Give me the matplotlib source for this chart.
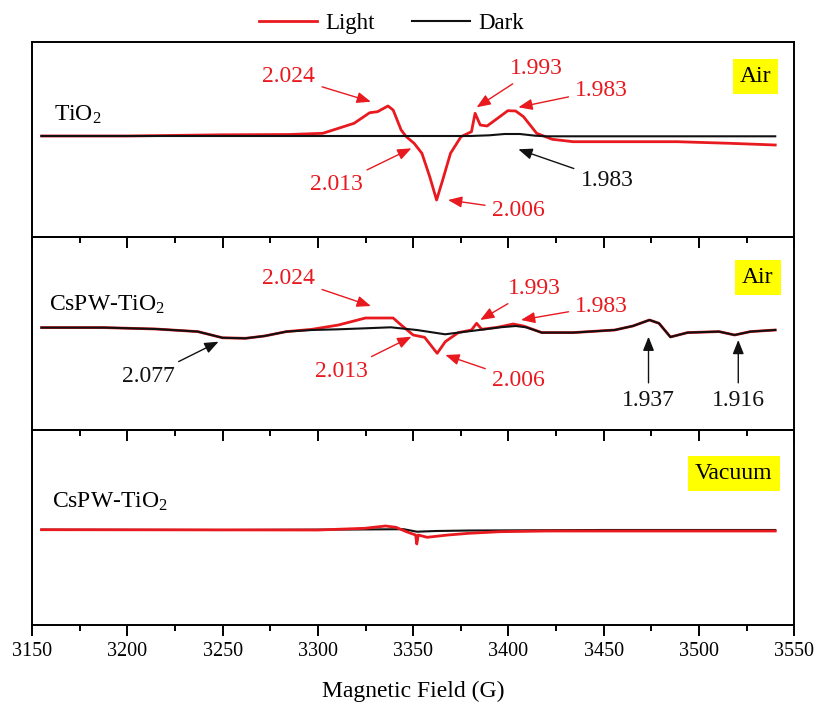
import matplotlib
matplotlib.use('Agg')
import matplotlib.pyplot as plt
from matplotlib.ticker import MultipleLocator

plt.rcParams['font.family'] = ['Liberation Serif', 'DejaVu Serif']
plt.rcParams['mathtext.default'] = 'regular'

# ---------------- data ----------------
# Panel 1: TiO2 in air
tio2_light_B = [3155, 3200, 3250, 3285, 3302.6, 3319, 3327.2, 3331.3, 3336.8, 3339.5, 3343.7,
                3346.4, 3350.5, 3354.6, 3358.7, 3362.3, 3365.5, 3369.6, 3375.1, 3380.6, 3382.5,
                3385.2, 3388.8, 3394.3, 3399.7, 3403.8, 3407.9, 3414.8, 3423, 3433.9, 3461.3,
                3488.6, 3516, 3540]
tio2_light_I = [0, 0, 1.2, 1.5, 2.7, 12.7, 23.3, 24.3, 30, 26, 6,
                -0.7, -7.3, -17.3, -40.7, -64, -44, -17.3, -0.7, 4.3, 22.7,
                11, 10, 17.7, 25.3, 25, 19.3, 2.7, -3.3, -5.7, -5.7,
                -5.7, -7.3, -9]
tio2_dark_B = [3155, 3250, 3380, 3390, 3398, 3406, 3414, 3420, 3480, 3540]
tio2_dark_I = [0, 0, 0, 0.7, 2, 2, 0.3, -0.3, -0.3, -0.3]

# Panel 2: CsPW-TiO2 in air
cspw_light_B = [3155, 3187.7, 3215, 3237, 3250, 3262, 3272, 3283.5, 3297, 3310.8, 3325,
                3339.5, 3343.7, 3350, 3356, 3362.6, 3366.9, 3373.7, 3380.6, 3383.3, 3386,
                3394.3, 3402.5, 3407.9, 3417.5, 3434, 3455.8, 3465.3, 3474, 3479, 3485,
                3494, 3510.5, 3518.7, 3527, 3540]
cspw_light_I = [0.7, 0.7, -0.7, -3.3, -9.5, -10, -7.7, -3.3, -1, 3.3, 10.3,
                10.3, 3.3, -6.7, -9, -25, -13.3, -4.3, -1.7, 5, -1,
                1, 4.3, 2.3, -4.3, -4.3, -1.7, 2.3, 8.3, 5, -8.7,
                -4.3, -3.3, -6.7, -3.3, -1.7]
cspw_dark_B = [3155, 3187.7, 3215, 3237, 3250, 3262, 3272, 3283.5, 3297, 3310.8, 3325,
               3338.2, 3351.9, 3366.8, 3373.7, 3384.7, 3395.6, 3403.8, 3409.3, 3417.5, 3434,
               3455.8, 3465.3, 3474, 3479, 3485, 3494, 3510.5, 3518.7, 3527, 3540]
cspw_dark_I = [0.7, 0.7, -0.7, -3.3, -9.5, -10, -7.7, -3.3, -1.7, -1, 0,
               1, -1.7, -6, -4.3, -1.7, 1, 2.3, 1, -4.3, -4.3,
               -1.7, 2.3, 8.3, 5, -8.7, -4.3, -3.3, -6.7, -3.3, -1.7]

# Panel 3: CsPW-TiO2 in vacuum
vac_light_B = [3155, 3300, 3324.5, 3335.5, 3341, 3346.4, 3351.3, 3351.9, 3352.7, 3357.3,
               3368.3, 3379.2, 3395.6, 3420, 3540]
vac_light_I = [0.3, 0, 1.7, 4, 2.7, -1.7, -5, -14, -5, -7.3,
               -5, -3.3, -1.7, -1, -1]
vac_dark_B = [3155, 3250, 3320, 3345, 3352, 3362, 3380, 3450, 3540]
vac_dark_I = [0.3, 0, 0.5, 0.8, -1.7, -1, -0.5, 0, 0]

series_labels = ['Light', 'Dark']
panel_labels = ['Air', 'Air', 'Vacuum']
sample_labels = ['TiO$_2$', 'CsPW-TiO$_2$', 'CsPW-TiO$_2$']
g_tio2_red = ['2.024', '1.993', '1.983', '2.013', '2.006']
g_tio2_black = ['1.983']
g_cspw_red = ['2.024', '1.993', '1.983', '2.013', '2.006']
g_cspw_black = ['2.077', '1.937', '1.916']

RED = '#e8191f'
BLACK = '#111111'

# ---------------- figure ----------------
fig = plt.figure(figsize=(8.17, 7.04), dpi=100)
left, right = 32 / 817, 794.3 / 817
tops_px = [41.7, 236.7, 430.0]
bots_px = [236.7, 430.0, 625.0]
ylims = [(-100.7, 94.3), (-101.7, 91.6), (-95, 100)]
axes = []
for i in range(3):
    b = 1 - bots_px[i] / 704
    h = (bots_px[i] - tops_px[i]) / 704
    ax = fig.add_axes([left, b, right - left, h])
    ax.patch.set_visible(False)
    ax.set_xlim(3150, 3550)
    ax.set_ylim(*ylims[i])
    ax.set_yticks([])
    for s in ax.spines.values():
        s.set_linewidth(1.4)
    ax.xaxis.set_major_locator(MultipleLocator(50))
    ax.xaxis.set_minor_locator(MultipleLocator(25))
    ax.tick_params(axis='x', which='both', direction='out', bottom=True, top=False,
                   width=1.4, labelbottom=(i == 2), labelsize=14.5, pad=4.5)
    ax.tick_params(axis='x', which='major', length=8)
    ax.tick_params(axis='x', which='minor', length=4.3)
    axes.append(ax)

ax1, ax2, ax3 = axes

lw_red, lw_blk = 2.0, 1.5
l1, = ax1.plot(tio2_light_B, tio2_light_I, color=RED, lw=lw_red, label=series_labels[0])
l2, = ax1.plot(tio2_dark_B, tio2_dark_I, color=BLACK, lw=lw_blk, label=series_labels[1])
ax2.plot(cspw_light_B, cspw_light_I, color=RED, lw=lw_red)
ax2.plot(cspw_dark_B, cspw_dark_I, color=BLACK, lw=lw_blk)
ax3.plot(vac_dark_B, vac_dark_I, color=BLACK, lw=lw_blk)
ax3.plot(vac_light_B, vac_light_I, color=RED, lw=lw_red)

ax3.set_xlabel('Magnetic Field (G)', fontsize=17, labelpad=14)

FS = 17
arrow_kw = dict(arrowstyle='-|>,head_length=0.7,head_width=0.28', lw=1.0,
                mutation_scale=12, shrinkA=3, shrinkB=0)


def ann(ax, txt, xy, xytext, color):
    ax.annotate(txt, xy=xy, xytext=xytext, ha='center', va='center', fontsize=FS,
                color=color, arrowprops=dict(color=color, **arrow_kw))


# panel 1 annotations
ann(ax1, g_tio2_red[0], (3327.8, 34.3), (3284.8, 59.3), RED)
ann(ax1, g_tio2_red[1], (3383.3, 28.7), (3414.8, 67.7), RED)
ann(ax1, g_tio2_red[2], (3405.2, 28.7), (3449, 46), RED)
ann(ax1, g_tio2_red[3], (3349.1, -12.3), (3309.5, -49), RED)
ann(ax1, g_tio2_red[4], (3368.3, -64), (3405.2, -74), RED)
ann(ax1, g_tio2_black[0], (3405.2, -13.3), (3451.7, -44), BLACK)

# panel 2 annotations
ann(ax2, g_cspw_red[0], (3327.8, 22.3), (3284.8, 50), RED)
ann(ax2, g_cspw_red[1], (3385.2, 8.3), (3413.4, 40), RED)
ann(ax2, g_cspw_red[2], (3406.6, 8.3), (3449, 22.3), RED)
ann(ax2, g_cspw_red[3], (3349.1, -8.4), (3312.2, -43.4), RED)
ann(ax2, g_cspw_red[4], (3366.9, -26.7), (3405.2, -51.7), RED)
ann(ax2, g_cspw_black[0], (3247.9, -13.4), (3211, -48.4), BLACK)
ann(ax2, g_cspw_black[1], (3473.5, -8.4), (3473.5, -72), BLACK)
ann(ax2, g_cspw_black[2], (3520.6, -11.7), (3520.6, -72), BLACK)

# sample labels
ax1.text(3161.8, 21, sample_labels[0], fontsize=FS, ha='left', va='center')
ax2.text(3159, 23.3, sample_labels[1], fontsize=FS, ha='left', va='center')
ax3.text(3160.4, 28.3, sample_labels[2], fontsize=FS, ha='left', va='center')

# atmosphere boxes
box = dict(boxstyle='square,pad=0.3', facecolor='#ffff00', edgecolor='none')
ax1.text(3529.6, 59.3, panel_labels[0], fontsize=FS, ha='center', va='center', bbox=box)
ax2.text(3530.8, 50.8, panel_labels[1], fontsize=FS, ha='center', va='center', bbox=box)
ax3.text(3518.2, 56.7, panel_labels[2], fontsize=FS, ha='center', va='center', bbox=box)

fig.legend(handles=[l1, l2], loc='center', bbox_to_anchor=(0.479, 1 - 23 / 704), ncol=2,
           frameon=False, fontsize=16.5, handlelength=2.55, handletextpad=0.35,
           columnspacing=1.6, borderaxespad=0)

fig.savefig('out.png', dpi=100)
